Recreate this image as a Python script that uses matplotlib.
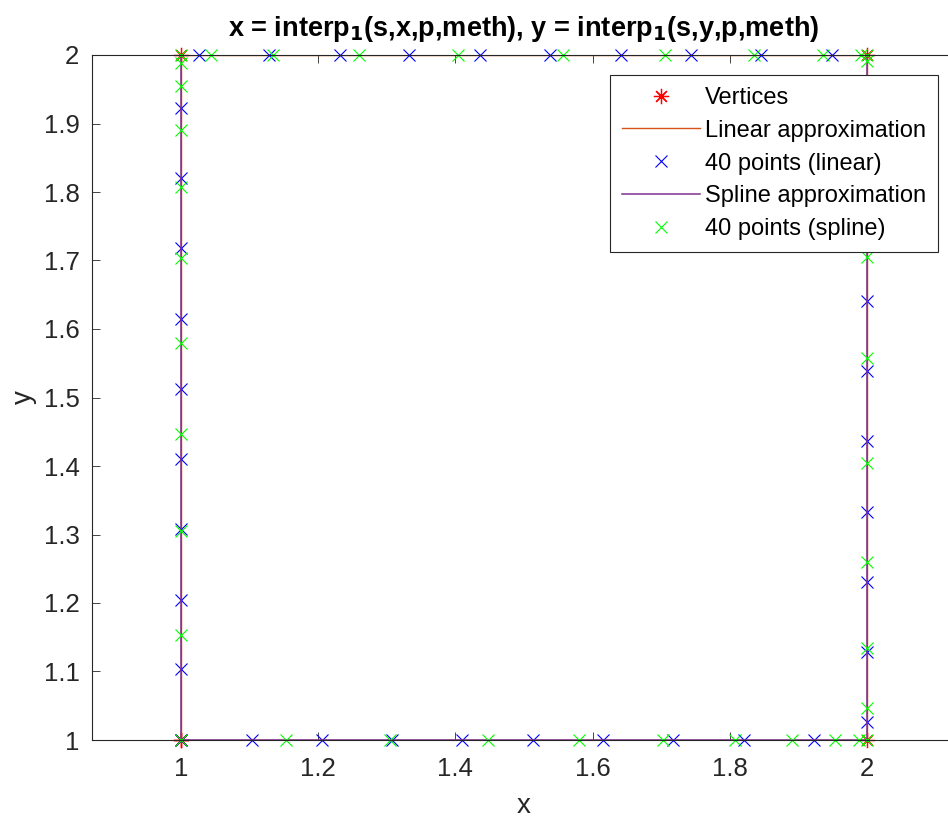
import matplotlib

matplotlib.use("Agg")
import matplotlib.pyplot as plt

plt.rcParams["font.family"] = ["Liberation Sans", "DejaVu Sans"]

# polygon vertices (closed square)
vert_x = [1, 2, 2, 1, 1]
vert_y = [1, 1, 2, 2, 1]

# 40 points, linear interpolation along the perimeter
lin_x = [1.000, 1.103, 1.205, 1.308, 1.410, 1.513, 1.615, 1.718, 1.821, 1.923,
         2, 2, 2, 2, 2, 2, 2, 2, 2, 2,
         1.949, 1.846, 1.744, 1.641, 1.538, 1.436, 1.333, 1.231, 1.128, 1.026,
         1, 1, 1, 1, 1, 1, 1, 1, 1, 1]
lin_y = [1, 1, 1, 1, 1, 1, 1, 1, 1, 1,
         1.026, 1.128, 1.231, 1.333, 1.436, 1.538, 1.641, 1.744, 1.846, 1.949,
         2, 2, 2, 2, 2, 2, 2, 2, 2, 2,
         1.923, 1.821, 1.718, 1.615, 1.513, 1.410, 1.308, 1.205, 1.103, 1.000]

# 40 points, spline parametrisation
spl_x = [1.000, 1.153, 1.304, 1.447, 1.580, 1.702, 1.807, 1.891, 1.953, 1.988,
         2, 2, 2, 2, 2, 2, 2, 2, 2, 2,
         2.000, 1.991, 1.936, 1.836, 1.705, 1.557, 1.404, 1.260, 1.134, 1.044,
         1, 1, 1, 1, 1, 1, 1, 1, 1, 1]
spl_y = [1, 1, 1, 1, 1, 1, 1, 1, 1, 1,
         1.000, 1.046, 1.135, 1.260, 1.405, 1.558, 1.705, 1.836, 1.936, 1.991,
         2, 2, 2, 2, 2, 2, 2, 2, 2, 2,
         2.000, 1.989, 1.955, 1.891, 1.807, 1.703, 1.580, 1.447, 1.305, 1.153]

fig = plt.figure(figsize=(9.48, 8.18), dpi=100)
ax = fig.add_axes([92 / 948, 78 / 818, 864 / 948, 685 / 818])

ax.plot(vert_x, vert_y, linestyle="none", marker=(8, 2, 0), color="red",
        markersize=11, markeredgewidth=0.9, label="Vertices", clip_on=False)
ax.plot(vert_x, vert_y, color="#D95319", lw=1.0, label="Linear approximation")
ax.plot(lin_x, lin_y, linestyle="none", marker="x", color="blue",
        markersize=9, markeredgewidth=0.8, label="40 points (linear)", clip_on=False)
ax.plot(vert_x, vert_y, color="#7E2F8E", lw=1.1, label="Spline approximation")
ax.plot(spl_x, spl_y, linestyle="none", marker="x", color="#00FF00",
        markersize=9, markeredgewidth=0.8, label="40 points (spline)", clip_on=False)

ax.set_xlim(0.87, 2.13)
ax.set_ylim(1, 2)
ax.set_xticks([1, 1.2, 1.4, 1.6, 1.8, 2])
ax.set_xticklabels(["1", "1.2", "1.4", "1.6", "1.8", "2"])
ax.set_yticks([1 + 0.1 * i for i in range(11)])
ax.set_yticklabels(["1", "1.1", "1.2", "1.3", "1.4", "1.5", "1.6", "1.7", "1.8", "1.9", "2"])
ax.tick_params(direction="in", length=6, width=0.6, top=True, right=True,
               labelsize=18.5, colors="#262626", labelcolor="#262626")
ax.tick_params(axis="y", pad=9)
ax.tick_params(axis="x", pad=12)
for sp in ax.spines.values():
    sp.set_linewidth(0.8)
    sp.set_color("#262626")

ax.set_xlabel("x", fontsize=20, color="#262626", labelpad=9)
ax.set_ylabel("y", fontsize=20, color="#262626", labelpad=5)
ax.set_title(r"x = interp$_\mathbf{1}$(s,x,p,meth), y = interp$_\mathbf{1}$(s,y,p,meth)",
             fontsize=19.5, fontweight="bold", pad=14)

leg = ax.legend(loc="upper right", bbox_to_anchor=(938 / 948, 1 - 75 / 818),
                bbox_transform=fig.transFigure, borderaxespad=0, fontsize=17,
                handlelength=3.3, handletextpad=0.22, labelspacing=0.46,
                borderpad=0.5, fancybox=False, framealpha=1)
leg.get_frame().set_edgecolor("#262626")
leg.get_frame().set_linewidth(0.8)

fig.savefig("out.png", dpi=100)
